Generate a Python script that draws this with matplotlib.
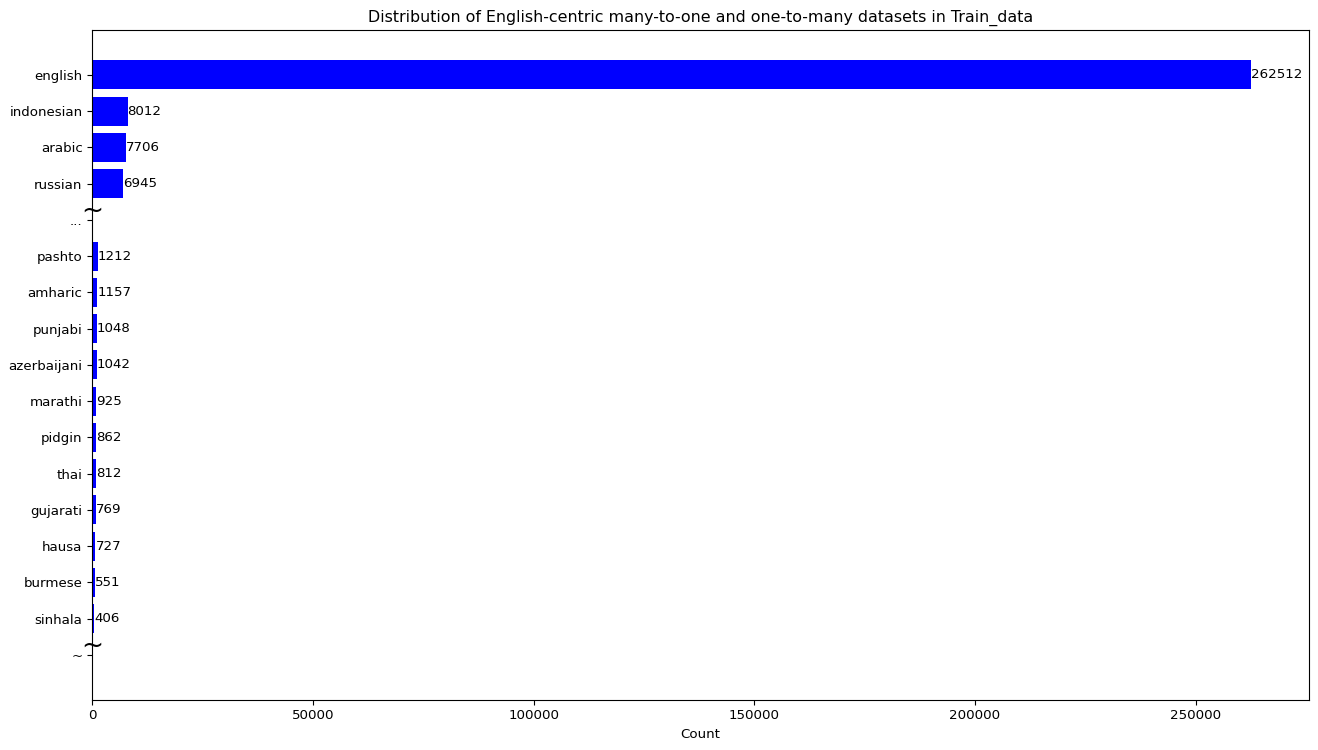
import matplotlib
matplotlib.use('Agg')
import matplotlib.pyplot as plt

languages = ['english', 'indonesian', 'arabic', 'russian', '...',
             'pashto', 'amharic', 'punjabi', 'azerbaijani', 'marathi',
             'pidgin', 'thai', 'gujarati', 'hausa', 'burmese', 'sinhala', '~']
counts = [262512, 8012, 7706, 6945, 0,
          1212, 1157, 1048, 1042, 925,
          862, 812, 769, 727, 551, 406, 0]
breaks = ['...', '~']

plt.rcParams['font.size'] = 9.6

fig, ax = plt.subplots(figsize=(13.18, 7.5), dpi=100)
ax.barh(languages, counts, color='blue')
ax.invert_yaxis()

for i, (lang, c) in enumerate(zip(languages, counts)):
    if lang in breaks:
        ax.text(0, i - 0.25, '~', fontsize=19, ha='center', va='center')
    else:
        ax.text(c, i, str(c), va='center', ha='left')

ax.set_xlabel('Count')
ax.set_title('Distribution of English-centric many-to-one and one-to-many datasets in Train_data',
             fontsize=11.4)
fig.subplots_adjust(left=0.07, right=0.993, top=0.96, bottom=0.067)
fig.savefig('out.png')
